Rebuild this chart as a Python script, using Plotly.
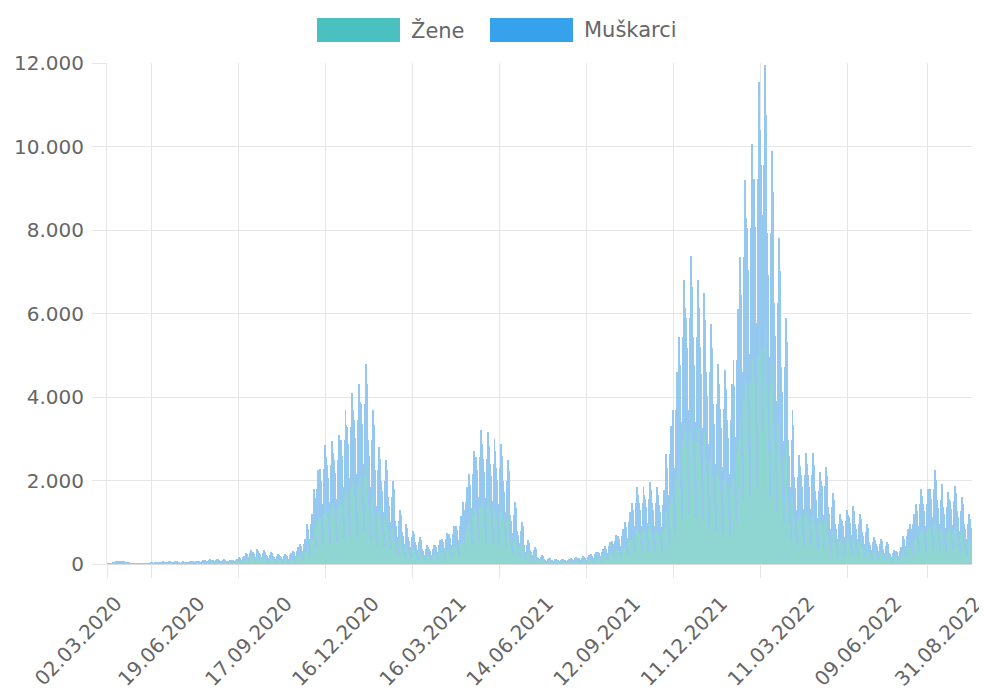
import pandas as pd
import plotly.graph_objects as go

# ---------------- DATA ----------------
serije = ["Žene", "Muškarci"]
oznake_osi = ["02.03.2020", "19.06.2020", "17.09.2020", "16.12.2020", "16.03.2021",
              "14.06.2021", "12.09.2021", "11.12.2021", "11.03.2022", "09.06.2022",
              "31.08.2022"]
y_oznake = [0, 2000, 4000, 6000, 8000, 10000, 12000]

# early period (02.03.2020 - 18.06.2020), 45 reporting days
zene_rano = [1,2,3,4,6,10,14,19,24,30,35,40,43,38,32,35,30,27,24,22,19,16,15,13,11,9,6,5,4,3,
             3,2,2,2,1,1,1,1,1,1,1,1,1,2,1]
muskarci_rano = [1,1,2,4,6,8,11,16,21,25,30,35,37,32,28,30,25,23,21,18,16,14,13,11,9,7,6,5,4,3,
                 2,2,1,1,1,1,0,1,0,0,1,0,1,1,1]

# daily values from 19.06.2020, one row per week (Fri..Thu)
zene_tjedni = [
[17,15,11,6,17,22,19],[22,19,14,8,22,27,24],[26,23,16,10,26,32,29],[25,22,17,9,27,33,28],
[21,20,13,8,21,27,25],[27,22,16,10,25,32,30],[30,26,19,11,30,38,34],[39,34,24,15,39,49,44],
[48,42,30,18,48,59,53],[52,45,32,19,52,65,58],[47,41,30,18,47,60,54],[43,38,27,16,43,54,49],
[53,46,33,19,51,65,58],[86,76,54,32,86,108,97],[142,125,89,53,142,178,160],[151,132,95,57,151,189,170],
[140,127,88,54,144,178,158],[121,106,76,45,121,151,136],[108,95,68,41,108,135,122],[99,87,62,37,99,124,112],
[112,98,70,42,112,140,126],[173,151,108,65,173,216,194],[259,227,162,97,259,324,292],[518,454,324,194,518,648,583],
[972,851,608,365,972,1215,1094],[1231,1077,770,462,1231,1539,1385],[1274,1115,797,478,1274,1593,1434],[1339,1172,837,502,1339,1674,1507],
[1598,1399,999,599,1598,1998,1798],[1771,1550,1107,664,1771,2214,1993],[1858,1625,1161,697,1858,2322,2090],[2074,1814,1296,778,2074,2592,2333],
[1610,1390,1010,590,1590,1998,1780],[1210,1058,756,454,1210,1512,1361],[1080,945,675,405,1080,1350,1215],[864,756,540,324,864,1080,972],
[562,491,351,211,562,702,632],[410,359,257,154,410,513,462],[346,302,216,130,346,432,389],[281,246,176,105,281,351,316],
[194,170,122,73,194,243,219],[198,168,119,75,190,240,221],[250,219,157,94,250,313,282],[324,284,203,122,324,405,365],
[389,340,243,146,389,486,437],[497,435,311,186,497,621,559],[799,699,500,300,799,999,899],[1166,1021,729,437,1166,1458,1312],
[1382,1210,864,518,1382,1728,1555],[1361,1191,851,510,1361,1701,1531],[1296,1134,810,486,1296,1620,1458],[1240,1085,775,465,1240,1550,1395],
[1071,937,670,402,1071,1339,1205],[639,559,400,240,639,799,719],[432,378,270,162,432,540,486],[246,216,154,92,246,308,277],
[177,155,111,66,177,221,199],[95,83,59,36,95,119,107],[65,57,41,24,65,81,73],[56,49,35,21,56,70,63],
[55,50,34,22,57,69,62],[57,48,36,20,55,71,64],[73,64,46,28,73,92,83],[82,72,51,31,82,103,92],
[91,79,57,34,91,113,102],[125,110,78,47,125,157,141],[160,140,100,60,160,200,180],[229,200,143,86,229,286,258],
[298,261,186,112,298,373,335],[367,321,230,138,367,459,413],[540,473,338,203,540,675,608],[795,696,497,298,795,994,894],
[780,710,490,300,810,990,880],[847,741,529,318,847,1058,953],[800,690,500,295,790,994,900],[769,673,481,288,769,961,865],
[1426,1247,891,535,1426,1782,1604],[1987,1739,1242,745,1987,2484,2236],[2938,2570,1836,1102,2938,3672,3305],[3188,2790,1993,1196,3188,3985,3587],
[2950,2560,1850,1090,2920,3672,3290],[2808,2457,1755,1053,2808,3510,3159],[2480,2170,1550,930,2480,3100,2790],[2074,1814,1296,778,2074,2592,2333],
[2009,1758,1256,753,2009,2511,2260],[1858,1625,1161,697,1858,2322,2090],[2635,2306,1647,988,2635,3294,2965],[3974,3478,2484,1490,3974,4968,4471],
[4342,3799,2714,1628,4342,5427,4884],[4985,4362,3116,1870,4985,6232,5608],[5162,4517,3227,1936,5162,6453,5808],[4277,3742,2673,1604,4277,5346,4811],
[3370,2948,2106,1264,3370,4212,3791],[2549,2230,1593,956,2549,3186,2867],[1598,1399,999,599,1598,1998,1798],[1123,983,702,421,1123,1404,1264],
[1145,1002,716,429,1145,1431,1288],[1130,1010,705,435,1160,1431,1270],[950,832,594,356,950,1188,1069],[1006,881,629,377,1006,1258,1132],
[734,643,459,275,734,918,826],[518,454,324,194,518,648,583],[562,491,351,211,562,702,632],[605,529,378,227,605,756,680],
[520,450,330,190,515,648,585],[419,367,262,157,419,524,472],[281,246,176,105,281,351,316],[259,227,162,97,259,324,292],
[229,200,143,86,229,286,258],[142,125,89,53,142,178,160],[173,151,108,65,173,216,194],[367,321,230,138,367,459,413],
[518,454,324,194,518,648,583],[778,680,486,292,778,972,875],[770,690,480,295,785,972,870],[968,847,605,363,968,1210,1089],
[830,726,518,311,830,1037,933],[743,650,464,279,743,929,836],[812,711,508,305,812,1015,914],[691,605,432,259,691,864,778],
[518,454,324,194,518,648,583],[470,410],
]
muskarci_tjedni = [
[15,13,9,6,15,18,17],[18,16,12,7,18,23,21],[22,19,14,8,22,28,25],[21,20,13,8,23,27,24],
[19,15,11,7,19,23,20],[21,20,14,9,22,28,24],[26,23,16,10,26,32,29],[33,29,21,12,33,41,37],
[40,35,25,15,40,51,46],[44,39,28,17,44,55,50],[41,36,25,15,41,50,45],[37,32,23,14,37,46,41],
[43,38,27,17,45,55,49],[74,64,46,28,74,92,83],[122,106,76,46,122,152,137],[129,113,81,48,129,161,145],
[124,104,77,45,120,152,139],[103,90,65,39,103,129,116],[92,81,58,35,92,115,104],[85,74,53,32,85,106,95],
[96,84,60,36,96,120,108],[147,129,92,55,147,184,166],[221,193,138,83,221,276,248],[442,386,276,166,442,552,497],
[828,725,518,311,828,1035,932],[1049,918,656,393,1049,1311,1180],[1086,950,679,407,1086,1357,1221],[1141,998,713,428,1141,1426,1283],
[1362,1191,851,511,1362,1702,1532],[1509,1320,943,566,1509,1886,1697],[1582,1385,989,593,1582,1978,1780],[1766,1546,1104,662,1766,2208,1987],
[1350,1200,840,520,1370,1702,1540],[1030,902,644,386,1030,1288,1159],[920,805,575,345,920,1150,1035],[736,644,460,276,736,920,828],
[478,419,299,179,478,598,538],[350,306,219,131,350,437,393],[294,258,184,110,294,368,331],[239,209,150,90,239,299,269],
[166,145,104,62,166,207,186],[162,147,106,60,170,210,184],[214,187,134,80,214,267,240],[276,242,173,104,276,345,311],
[331,290,207,124,331,414,373],[423,370,265,159,423,529,476],[681,596,426,255,681,851,766],[994,869,621,373,994,1242,1118],
[1178,1030,736,442,1178,1472,1325],[1159,1014,725,435,1159,1449,1304],[1104,966,690,414,1104,1380,1242],[1056,924,660,396,1056,1320,1188],
[913,799,571,342,913,1141,1027],[545,477,341,204,545,681,613],[368,322,230,138,368,460,414],[210,183,131,79,210,262,236],
[151,132,94,57,151,189,170],[81,71,51,30,81,101,91],[55,48,35,21,55,69,62],[48,42,30,18,48,60,54],
[47,41,31,17,49,61,53],[49,43,29,19,47,59,55],[62,55,39,23,62,78,70],[70,61,44,26,70,87,79],
[77,68,48,29,77,97,87],[107,93,67,40,107,133,120],[136,119,85,51,136,170,153],[195,171,122,73,195,244,219],
[254,222,159,95,254,317,286],[313,274,196,117,313,391,352],[460,403,288,173,460,575,518],[677,592,423,254,677,846,761],
[690,580,430,250,660,850,770],[721,631,451,270,721,902,811],[670,600,420,260,680,846,750],[655,573,409,246,655,819,737],
[1214,1062,759,455,1214,1518,1366],[1693,1481,1058,635,1693,2116,1904],[2502,2190,1564,938,2502,3128,2815],[2716,2377,1698,1019,2716,3395,3056],
[2490,2200,1550,950,2520,3128,2830],[2392,2093,1495,897,2392,2990,2691],[2112,1848,1320,792,2112,2640,2376],[1766,1546,1104,662,1766,2208,1987],
[1711,1497,1070,642,1711,2139,1925],[1582,1385,989,593,1582,1978,1780],[2245,1964,1403,842,2245,2806,2525],[3386,2962,2116,1270,3386,4232,3809],
[3698,3236,2312,1387,3698,4623,4161],[4247,3716,2654,1592,4247,5308,4777],[4398,3848,2749,1649,4398,5497,4947],[3643,3188,2277,1366,3643,4554,4099],
[2870,2512,1794,1076,2870,3588,3229],[2171,1900,1357,814,2171,2714,2443],[1362,1191,851,511,1362,1702,1532],[957,837,598,359,957,1196,1076],
[975,853,610,366,975,1219,1097],[990,840,620,360,960,1219,1110],[810,708,506,304,810,1012,911],[858,750,536,322,858,1072,965],
[626,547,391,235,626,782,704],[442,386,276,166,442,552,497],[478,419,299,179,478,598,538],[515,451,322,193,515,644,580],
[440,390,270,170,445,552,495],[357,312,223,134,357,446,401],[239,209,150,90,239,299,269],[221,193,138,83,221,276,248],
[195,171,122,73,195,244,219],[122,106,76,46,122,152,137],[147,129,92,55,147,184,166],[313,274,196,117,313,391,352],
[442,386,276,166,442,552,497],[662,580,414,248,662,828,745],[670,570,420,245,655,828,750],[824,721,515,309,824,1030,927],
[706,618,442,265,706,883,795],[633,554,396,237,633,791,712],[692,606,433,260,692,865,779],[589,515,368,221,589,736,662],
[442,386,276,166,442,552,497],[400,350],
]

# ---------------- BUILD ----------------
zene = zene_rano + [v for tj in zene_tjedni for v in tj]
muskarci = muskarci_rano + [v for tj in muskarci_tjedni for v in tj]

rani_datumi = (pd.date_range("2020-03-02", "2020-06-18", periods=len(zene_rano))
               .normalize().strftime("%d.%m.%Y").tolist())
n_dnevno = len(zene) - len(zene_rano)
dnevni_datumi = pd.date_range("2020-06-19", periods=n_dnevno).strftime("%d.%m.%Y").tolist()
datumi = rani_datumi + dnevni_datumi

BOJA_Z = "#4bc0c0"
BOJA_M = "#36a2eb"
FONT = "DejaVu Sans"
SIVA = "#666666"
KUT = -46

fig = go.Figure()
fig.add_trace(go.Bar(x=datumi, y=zene, name=serije[0], marker=dict(color="#8fd6d3", line=dict(width=0)),
                     showlegend=False))
fig.add_trace(go.Bar(x=datumi, y=muskarci, name=serije[1], marker=dict(color="#95c8ee", line=dict(width=0)),
                     showlegend=False))

# page offset of the figure (body margin) compensated in the margins
OFF = 8
W, H = 987, 698
PL, PR, PT, PB = 107, 972, 63, 564          # plot area on the page
L = PL - OFF
T = PT - OFF
pw = PR - PL
ph = PB - PT
R = W - L - pw
B = H - T - ph


def px_x(px):
    return (px - PL) / pw


def px_y(py):
    return (PB - py) / ph


# legend (wide Chart.js style boxes)
shapes = []
annotations = []
for naziv, boja, x0, x1, xt in [(serije[0], BOJA_Z, 317, 400, 409), (serije[1], BOJA_M, 490, 573, 582)]:
    shapes.append(dict(type="rect", xref="paper", yref="paper", x0=px_x(x0), x1=px_x(x1),
                       y0=px_y(42), y1=px_y(18), fillcolor=boja, line=dict(width=0)))
    annotations.append(dict(text=naziv, xref="paper", yref="paper", x=px_x(xt), y=px_y(30),
                            xanchor="left", yanchor="middle", showarrow=False,
                            font=dict(family=FONT, size=21, color=SIVA)))

# first date label sits left of the plot edge (as in the original layout)
annotations.append(dict(text=oznake_osi[0], xref="paper", yref="paper", x=px_x(78), y=px_y(641),
                        xanchor="center", yanchor="middle", showarrow=False, textangle=KUT,
                        font=dict(family=FONT, size=20, color=SIVA)))
tekst_osi = [""] + oznake_osi[1:]

fig.update_layout(
    width=W, height=H,
    margin=dict(l=L, r=R, t=T, b=B, autoexpand=False),
    barmode="stack", bargap=0.0,
    plot_bgcolor="white", paper_bgcolor="white",
    separators=",.",
    font=dict(family=FONT, size=20, color=SIVA),
    shapes=shapes, annotations=annotations,
    showlegend=False,
)
fig.update_xaxes(
    type="category", categoryorder="array", categoryarray=datumi,
    range=[-0.5, len(datumi) - 0.5],
    tickmode="array", tickvals=oznake_osi, ticktext=tekst_osi,
    tickangle=KUT, showgrid=True, gridcolor="#e6e6e6", gridwidth=1,
    ticks="outside", ticklen=13, tickcolor="#e6e6e6",
    ticklabelshift=48, ticklabelstandoff=6,
    showline=False, zeroline=False, automargin=False,
    tickfont=dict(family=FONT, size=20, color=SIVA),
)
fig.update_yaxes(
    range=[0, 12000], tickmode="array", tickvals=y_oznake, tickformat=",d",
    showgrid=True, gridcolor="#e6e6e6", gridwidth=1,
    ticks="outside", ticklen=14, tickcolor="#e6e6e6", ticklabelstandoff=4,
    showline=True, linecolor="#e6e6e6", zeroline=True, zerolinecolor="#d9d9d9",
    automargin=False,
    tickfont=dict(family=FONT, size=20, color=SIVA),
)

fig.write_html("out.html")
